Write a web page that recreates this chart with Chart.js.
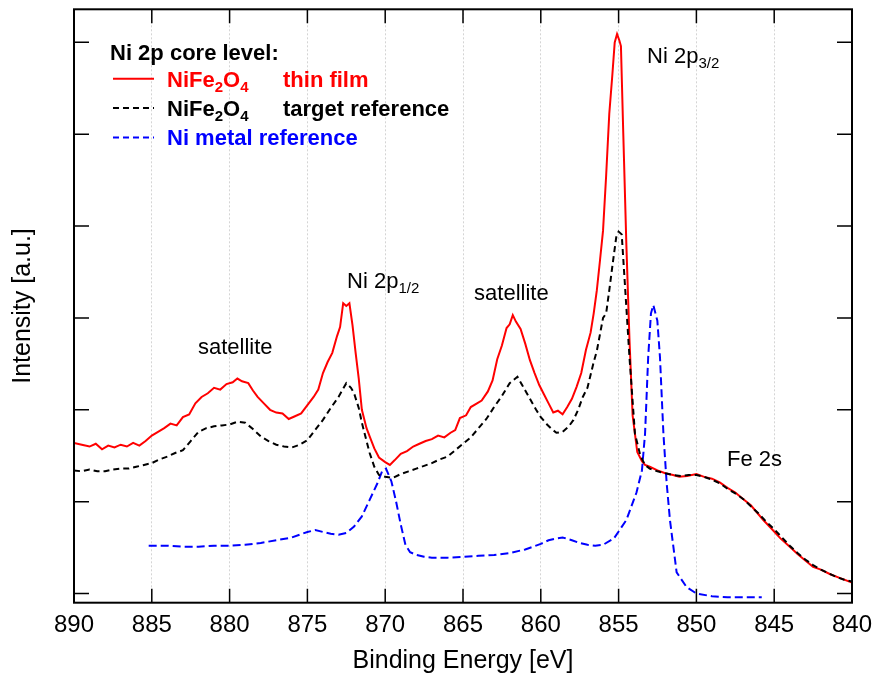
<!DOCTYPE html>
<html>
<head>
<meta charset="utf-8">
<title>Ni 2p XPS</title>
<script src="https://cdn.jsdelivr.net/npm/chart.js@4.4.0/dist/chart.umd.min.js"></script>
<style>
  html, body { margin: 0; padding: 0; background: #fff; }
  #wrap { width: 876px; height: 678px; position: relative; }
</style>
</head>
<body>
<div id="wrap"><canvas id="xps"></canvas></div>
<script>
// binding energy axis (eV), drawn high -> low
const xTicks = [890, 885, 880, 875, 870, 865, 860, 855, 850, 845, 840];
const yTicks = [0, 1, 2, 3, 4, 5, 6];

// NiFe2O4 thin film
const filmE = [
  890.0, 889.5, 889.0, 888.6, 888.2, 887.8, 887.4, 887.0, 886.6, 886.2, 885.8, 885.4, 885.0,
  884.6, 884.2, 883.8, 883.4, 883.0, 882.6, 882.2, 881.8, 881.4, 881.0, 880.6, 880.2, 879.8,
  879.5, 879.2, 878.8, 878.5, 878.2, 877.8, 877.4, 877.0, 876.6, 876.2, 875.8, 875.4, 875.0,
  874.6, 874.3, 874.0, 873.7, 873.4, 873.1, 872.9, 872.7, 872.5, 872.3, 872.1, 871.9, 871.7,
  871.5, 871.2, 871.0, 870.7, 870.4, 870.0, 869.7, 869.4, 869.0, 868.6, 868.2, 867.8, 867.4,
  867.0, 866.6, 866.2, 865.8, 865.5, 865.2, 864.8, 864.5, 864.1, 863.8, 863.4, 863.1, 862.8,
  862.5, 862.2, 862.0, 861.8, 861.6, 861.3, 861.0, 860.7, 860.4, 860.1, 859.8, 859.5, 859.2,
  858.9, 858.6, 858.3, 858.0, 857.7, 857.4, 857.1, 856.8, 856.6, 856.4, 856.2, 856.0, 855.8,
  855.6, 855.4, 855.25, 855.1, 854.95, 854.85, 854.7, 854.5, 854.3, 854.1, 853.8, 853.5, 853.3,
  853.0, 852.5, 852.0, 851.5, 851.1, 850.6, 850.0, 849.5, 849.0, 848.5, 848.0, 847.5, 847.0,
  846.5, 846.0, 845.7, 845.2, 844.6, 844.0, 843.5, 843.0, 842.5, 842.0, 841.4, 840.8, 840.0
];
const filmI = [
  1.64, 1.62, 1.60, 1.63, 1.57, 1.61, 1.59, 1.62, 1.60, 1.64, 1.61, 1.66, 1.72,
  1.76, 1.80, 1.85, 1.83, 1.92, 1.95, 2.07, 2.14, 2.18, 2.24, 2.22, 2.28, 2.30,
  2.34, 2.31, 2.29, 2.21, 2.14, 2.07, 2.00, 1.97, 1.96, 1.90, 1.93, 1.96, 2.05,
  2.14, 2.22, 2.40, 2.52, 2.62, 2.80, 2.90, 3.16, 3.13, 3.16, 2.92, 2.62, 2.34,
  2.00, 1.80, 1.71, 1.58, 1.48, 1.43, 1.40, 1.45, 1.52, 1.55, 1.60, 1.63, 1.66,
  1.68, 1.72, 1.70, 1.75, 1.78, 1.91, 1.94, 2.03, 2.07, 2.10, 2.20, 2.32, 2.55,
  2.70, 2.89, 2.93, 3.03, 2.96, 2.88, 2.72, 2.54, 2.40, 2.27, 2.17, 2.07, 1.97,
  1.99, 1.95, 2.03, 2.12, 2.25, 2.40, 2.65, 2.84, 3.05, 3.30, 3.62, 3.95, 4.55,
  5.22, 5.65, 6.00, 6.09, 6.02, 5.96, 5.01, 3.79, 2.76, 1.94, 1.54, 1.44, 1.40,
  1.38, 1.34, 1.31, 1.29, 1.27, 1.28, 1.30, 1.27, 1.25, 1.21, 1.15, 1.10, 1.03,
  0.96, 0.86, 0.80, 0.71, 0.60, 0.51, 0.43, 0.36, 0.29, 0.26, 0.21, 0.17, 0.12
];

// NiFe2O4 target reference
const targetE = [
  890.0, 889.5, 889.0, 888.5, 888.0, 887.5, 887.0, 886.5, 886.0, 885.5, 885.0, 884.5, 884.0,
  883.5, 883.0, 882.5, 882.0, 881.5, 881.0, 880.5, 880.0, 879.5, 879.0, 878.5, 878.0, 877.5,
  877.0, 876.5, 876.0, 875.5, 875.0, 874.5, 874.0, 873.5, 873.0, 872.7, 872.5, 872.2, 872.0,
  871.7, 871.5, 871.2, 871.0, 870.7, 870.4, 870.0, 869.5, 869.0, 868.5, 868.0, 867.5, 867.0,
  866.5, 866.0, 865.5, 865.0, 864.5, 864.0, 863.5, 863.0, 862.5, 862.0, 861.5, 861.2, 860.9,
  860.6, 860.3, 860.0, 859.6, 859.3, 859.0, 858.6, 858.2, 857.9, 857.6, 857.3, 857.0, 856.6,
  856.4, 856.0, 855.8, 855.6, 855.35, 855.15, 855.0, 854.8, 854.6, 854.3, 853.95, 853.6, 853.3,
  853.0, 852.5, 852.0, 851.5, 851.0, 850.5, 850.0, 849.5, 849.0, 848.5, 848.0, 847.5, 847.0,
  846.5, 846.0, 845.5, 845.0, 844.5, 844.0, 843.5, 843.0, 842.5, 842.0, 841.5, 841.0, 840.5,
  840.0
];
const targetI = [
  1.34, 1.33, 1.35, 1.33, 1.33, 1.35, 1.36, 1.36, 1.38, 1.40, 1.42, 1.46, 1.49,
  1.53, 1.56, 1.66, 1.76, 1.80, 1.82, 1.83, 1.84, 1.87, 1.86, 1.79, 1.71, 1.66,
  1.62, 1.60, 1.59, 1.62, 1.67, 1.78, 1.89, 2.02, 2.14, 2.23, 2.29, 2.24, 2.18,
  2.02, 1.86, 1.66, 1.53, 1.38, 1.29, 1.27, 1.26, 1.30, 1.33, 1.36, 1.39, 1.42,
  1.46, 1.49, 1.56, 1.63, 1.70, 1.80, 1.90, 2.03, 2.15, 2.29, 2.36, 2.27, 2.18,
  2.09, 2.00, 1.92, 1.84, 1.79, 1.75, 1.76, 1.82, 1.89, 2.00, 2.14, 2.24, 2.52,
  2.64, 3.00, 3.05, 3.30, 3.63, 3.88, 3.94, 3.91, 3.38, 2.57, 1.74, 1.50, 1.40,
  1.36, 1.33, 1.31, 1.29, 1.28, 1.29, 1.29, 1.27, 1.24, 1.20, 1.14, 1.09, 1.03,
  0.95, 0.87, 0.78, 0.70, 0.61, 0.52, 0.44, 0.37, 0.31, 0.26, 0.22, 0.18, 0.15,
  0.13
];

// Ni metal reference
const metalE = [
  885.2, 884.0, 883.0, 882.0, 881.0, 880.0, 879.0, 878.0, 877.0, 876.0, 875.5, 875.0, 874.5,
  874.0, 873.5, 873.0, 872.5, 872.0, 871.5, 871.0, 870.5, 870.2, 869.95, 869.6, 869.3, 869.0,
  868.7, 868.4, 868.0, 867.5, 867.0, 866.0, 865.0, 864.0, 863.0, 862.0, 861.0, 860.0, 859.5,
  859.0, 858.6, 858.0, 857.5, 857.0, 856.5, 856.0, 855.3, 854.5, 853.85, 853.5, 853.3, 853.2,
  853.1, 852.92, 852.77, 852.51, 852.34, 852.12, 851.91, 851.7, 851.27, 850.63, 850.0, 849.0,
  848.0, 847.0, 845.8
];
const metalI = [
  0.52, 0.52, 0.51, 0.51, 0.52, 0.52, 0.53, 0.55, 0.58, 0.61, 0.64, 0.67, 0.69,
  0.67, 0.65, 0.64, 0.66, 0.73, 0.84, 1.02, 1.20, 1.33, 1.36, 1.22, 1.00, 0.75,
  0.53, 0.45, 0.42, 0.40, 0.39, 0.39, 0.40, 0.41, 0.42, 0.44, 0.48, 0.54, 0.58,
  0.60, 0.61, 0.58, 0.55, 0.53, 0.52, 0.53, 0.60, 0.80, 1.10, 1.34, 1.74, 2.15,
  2.57, 3.05, 3.14, 2.97, 2.57, 1.74, 1.20, 0.80, 0.23, 0.07, 0.00, -0.03,
  -0.04, -0.04, -0.04
];

const pts = (xs, ys) => xs.map((e, i) => ({ x: e, y: ys[i] }));

const FONT = "'Liberation Sans', Arial, Helvetica, sans-serif";

// text with subscripts: parts = [[text, isSub], ...]
function subText(ctx, parts, x, y, size) {
  let cx = x;
  const w = ctx.font.match(/bold/) ? 'bold ' : '';
  parts.forEach(([t, sub]) => {
    ctx.font = w + (sub ? Math.round(size * 0.68) : size) + 'px ' + FONT;
    ctx.fillText(t, cx, sub ? y + 5 : y);
    cx += ctx.measureText(t).width;
  });
}

const annotations = [
  { parts: [['satellite', false]], e: 882.03, v: 2.61 },
  { parts: [['Ni 2p', false], ['1/2', true]], e: 872.45, v: 3.33 },
  { parts: [['satellite', false]], e: 864.29, v: 3.20 },
  { parts: [['Ni 2p', false], ['3/2', true]], e: 853.17, v: 5.78 },
  { parts: [['Fe 2s', false]], e: 848.03, v: 1.39 }
];

const legendRows = [
  { color: '#ff0000', dash: [], name: [['NiFe', false], ['2', true], ['O', false], ['4', true]], note: 'thin film' },
  { color: '#000000', dash: [6, 4], name: [['NiFe', false], ['2', true], ['O', false], ['4', true]], note: 'target reference' },
  { color: '#0000ff', dash: [6, 4], name: [['Ni metal reference', false]], note: '' }
];

const frame = {
  id: 'frame',
  afterDraw(chart) {
    const { ctx, chartArea: a, scales: { x, y } } = chart;
    ctx.save();
    ctx.strokeStyle = '#000';
    ctx.lineWidth = 1.5;
    ctx.beginPath();
    xTicks.forEach(v => {
      const px = x.getPixelForValue(v);
      ctx.moveTo(px, a.bottom); ctx.lineTo(px, a.bottom - 14);
      ctx.moveTo(px, a.top); ctx.lineTo(px, a.top + 14);
    });
    yTicks.forEach(v => {
      const py = y.getPixelForValue(v);
      ctx.moveTo(a.left, py); ctx.lineTo(a.left + 15, py);
      ctx.moveTo(a.right, py); ctx.lineTo(a.right - 15, py);
    });
    ctx.stroke();
    ctx.lineWidth = 2;
    ctx.strokeRect(a.left, a.top, a.right - a.left, a.bottom - a.top);

    // peak labels
    ctx.fillStyle = '#000';
    ctx.textBaseline = 'alphabetic';
    ctx.textAlign = 'left';
    annotations.forEach(n => {
      ctx.font = '22px ' + FONT;
      subText(ctx, n.parts, x.getPixelForValue(n.e), y.getPixelForValue(n.v), 22);
    });

    // legend
    const lx = a.left + 36;
    ctx.font = 'bold 22px ' + FONT;
    ctx.fillText('Ni 2p core level:', lx, a.top + 51);
    legendRows.forEach((r, i) => {
      const base = a.top + 77.5 + i * 29.3;
      ctx.strokeStyle = r.color;
      ctx.lineWidth = 2;
      ctx.setLineDash(r.dash);
      ctx.beginPath();
      ctx.moveTo(lx + 3, base - 8);
      ctx.lineTo(lx + 44, base - 8);
      ctx.stroke();
      ctx.setLineDash([]);
      ctx.fillStyle = r.color;
      ctx.font = 'bold 22px ' + FONT;
      subText(ctx, r.name, lx + 57, base, 22);
      if (r.note) {
        ctx.font = 'bold 22px ' + FONT;
        ctx.fillText(r.note, lx + 173, base);
      }
    });
    ctx.restore();
  }
};

new Chart(document.getElementById('xps'), {
  type: 'line',
  data: {
    datasets: [
      {
        label: 'NiFe2O4 target reference',
        data: pts(targetE, targetI),
        borderColor: '#000000',
        borderDash: [6, 4],
        borderWidth: 2,
        order: 0
      },
      {
        label: 'Ni metal reference',
        data: pts(metalE, metalI),
        borderColor: '#0000ff',
        borderDash: [8, 4],
        borderWidth: 2,
        order: 1
      },
      {
        label: 'NiFe2O4 thin film',
        data: pts(filmE, filmI),
        borderColor: '#ff0000',
        borderWidth: 2,
        order: 2
      }
    ]
  },
  options: {
    responsive: true,
    maintainAspectRatio: false,
    animation: false,
    events: [],
    layout: { padding: { top: 9.3, right: 24, bottom: 0, left: 0 } },
    elements: {
      point: { radius: 0 },
      line: { tension: 0, fill: false }
    },
    plugins: {
      legend: { display: false },
      tooltip: { enabled: false }
    },
    scales: {
      x: {
        type: 'linear',
        reverse: true,
        min: 840,
        max: 890,
        afterBuildTicks: s => { s.ticks = xTicks.map(v => ({ value: v })); },
        afterFit: s => {
          s.height = 75.3;
          s.paddingLeft = 0;
          s.paddingRight = 0;
        },
        ticks: {
          color: '#000',
          font: { family: FONT, size: 24 },
          padding: 8,
          maxRotation: 0,
          autoSkip: false
        },
        grid: { drawTicks: false, color: '#d4d4d4', lineWidth: 1 },
        border: { display: false, dash: [2, 2] },
        title: {
          display: true,
          text: 'Binding Energy [eV]',
          color: '#000',
          font: { family: FONT, size: 25 },
          padding: { top: 0, bottom: 2 }
        }
      },
      y: {
        type: 'linear',
        min: -0.1,
        max: 6.36,
        afterFit: s => { s.width = 74; },
        ticks: { display: false },
        grid: { display: false, drawTicks: false },
        border: { display: false },
        title: {
          display: true,
          text: 'Intensity [a.u.]',
          color: '#000',
          font: { family: FONT, size: 25 },
          padding: { top: 8.5, bottom: 0 }
        }
      }
    }
  },
  plugins: [frame]
});
</script>
</body>
</html>
